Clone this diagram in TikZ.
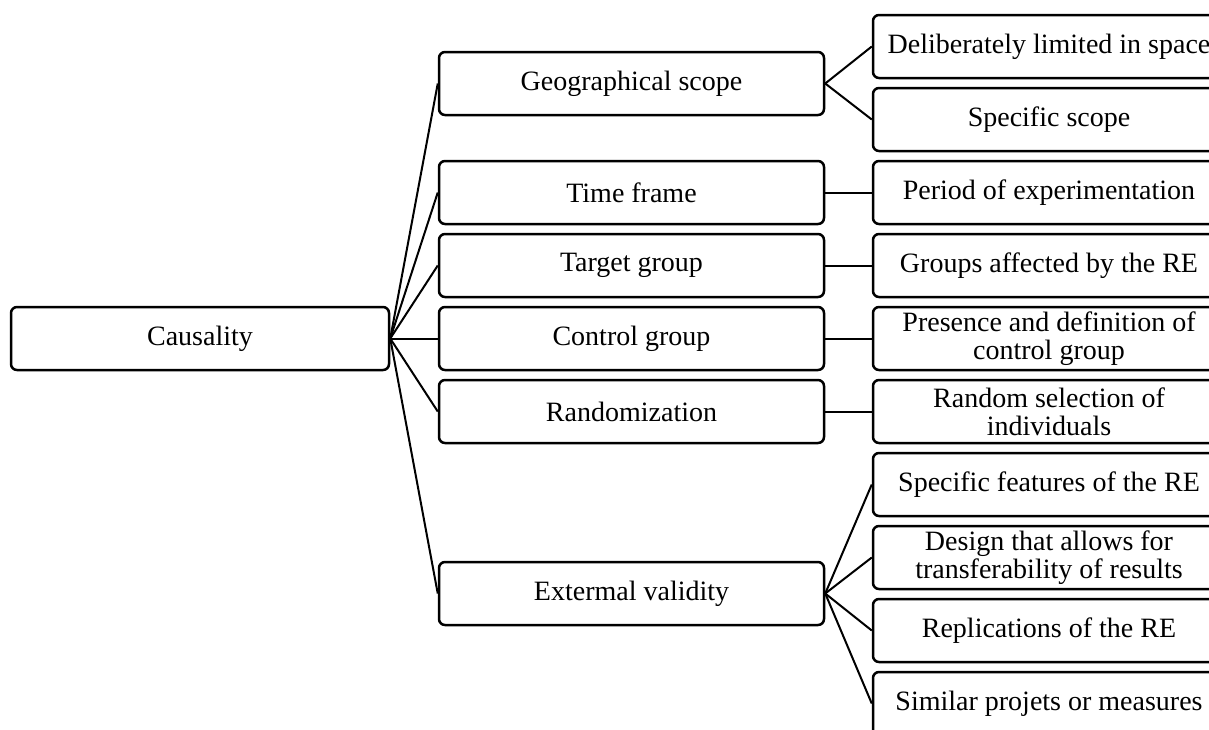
\documentclass[tikz,border=0pt]{standalone}
\usepackage{fontspec}
\setmainfont{Liberation Serif}

\begin{document}
\begin{tikzpicture}[-,thick,x=0.5pt,y=-0.5pt,node distance=36.5pt,main node/.style={rectangle,draw,rounded corners=3pt,line width=1.25pt,inner ysep=1pt,minimum height=31.5pt,align=center,font=\fontsize{14}{14}\selectfont},mid node/.style={main node,minimum width=192.5pt},leaf node/.style={main node,minimum width=176pt}]
            \clip (0,0) rectangle (1209,729);

            % right column
            \node[leaf node] (11) at (1049,46.5) {Deliberately limited in space};
            \node[leaf node] (12) [below of = 11] {Specific scope};
            \node[leaf node] (13) [below of = 12] {Period of experimentation};
            \node[leaf node] (14) [below of = 13] {Groups affected by the RE};
            \node[leaf node] (15) [below of = 14] {Presence and definition of\\control group};
            \node[leaf node] (16) [below of = 15] {Random selection of\\individuals};
            \node[leaf node] (17) [below of = 16] {Specific features of the RE};
            \node[leaf node] (18) [below of = 17] {Design that allows for\\transferability of results};
            \node[leaf node] (19) [below of = 18] {Replications of the RE};
            \node[leaf node] (20) [below of = 19] {Similar projets or measures};

            % middle column
            \node[mid node] (2) at (631.5,83.5) {Geographical scope};
            \node[mid node] (3) [node distance = 208.75pt, left of = 13] {Time frame};
            \node[mid node] (4) [node distance = 208.75pt, left of = 14] {Target group};
            \node[mid node] (5) [node distance = 208.75pt, left of = 15] {Control group};
            \node[mid node] (6) [node distance = 208.75pt, left of = 16] {Randomization};
            \node[mid node] (7) at (631.5,593.5) {Extermal validity};

            \node[main node, minimum width = 189pt] (1) [node distance = 215.75pt, left of = 5] {Causality};

            \path[line width=1pt]
                (1.east) edge (2.west)
                (1.east) edge (3.west)
                (1.east) edge (4.west)
                (1.east) edge (5.west)
                (1.east) edge (6.west)
                (1.east) edge (7.west)
                (2.east) edge (11.west)
                (2.east) edge (12.west)
                (3.east) edge (13.west)
                (4.east) edge (14.west)
                (5.east) edge (15.west)
                (6.east) edge (16.west)
                (7.east) edge (17.west)
                (7.east) edge (18.west)
                (7.east) edge (19.west)
                (7.east) edge (20.west)
                ;
        \end{tikzpicture}
\end{document}
